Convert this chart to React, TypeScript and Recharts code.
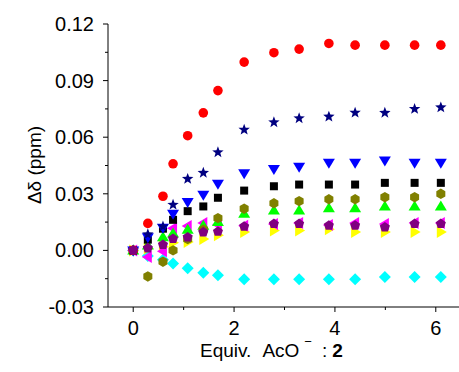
import React from 'react';
import { ScatterChart, Scatter, XAxis, YAxis } from 'recharts';

// equivalents of AcO- added
const equiv = [0, 0.29, 0.59, 0.79, 1.08, 1.39, 1.68, 2.2, 2.79, 3.29, 3.88, 4.4, 4.99, 5.58, 6.1];

// Δδ (ppm) per proton signal
const redCircle = [0, 0.0143, 0.0287, 0.0459, 0.0608, 0.0729, 0.0847, 0.0998, 0.1048, 0.1067, 0.1097, 0.1088, 0.1088, 0.1088, 0.1088];
const navyStar = [0, 0.0085, 0.0127, 0.0242, 0.0379, 0.0411, 0.052, 0.064, 0.0679, 0.07, 0.0709, 0.073, 0.0729, 0.075, 0.0758];
const blueDown = [0, 0.007, 0.012, 0.0194, 0.0256, 0.0295, 0.0353, 0.0409, 0.0432, 0.0444, 0.0464, 0.0464, 0.0476, 0.0464, 0.0464];
const blackSquare = [0, 0.0057, 0.0115, 0.0162, 0.0208, 0.0233, 0.0279, 0.0317, 0.034, 0.0349, 0.0349, 0.0349, 0.0358, 0.0358, 0.0358];
const oliveHex = [0, -0.0138, -0.006, 0, 0.006, 0.011, 0.0171, 0.0221, 0.025, 0.0261, 0.0271, 0.0271, 0.0282, 0.0282, 0.03];
const greenUp = [0, 0.0026, 0.007, 0.009, 0.011, 0.013, 0.015, 0.0194, 0.0212, 0.0212, 0.0224, 0.0224, 0.0233, 0.0233, 0.0233];
const magentaLeft = [0, -0.0035, -0.0005, 0.0118, 0.0129, 0.0145, 0.0136, 0.013, 0.014, 0.0145, 0.0135, 0.0145, 0.014, 0.0145, 0.0145];
const purplePent = [0, 0.0012, 0.003, 0.0062, 0.007, 0.0097, 0.01, 0.0127, 0.0141, 0.0141, 0.0132, 0.0132, 0.0123, 0.0141, 0.0141];
const yellowRight = [0, 0.001, 0.002, 0.004, 0.0044, 0.006, 0.008, 0.0097, 0.0106, 0.0106, 0.0112, 0.0097, 0.0097, 0.0097, 0.0097];
const cyanDiamond = [0, -0.003, -0.005, -0.007, -0.0094, -0.0118, -0.0132, -0.0153, -0.0153, -0.0153, -0.0153, -0.0153, -0.0141, -0.0141, -0.0141];

const xTicks = [0, 1, 2, 3, 4, 5, 6];
const yTicks = [-0.03, -0.015, 0, 0.015, 0.03, 0.045, 0.06, 0.075, 0.09, 0.105, 0.12];

const FONT = '"Liberation Sans", Arial, Helvetica, sans-serif';

const toPoints = (vals: number[]) => equiv.map((x, i) => ({ x, y: vals[i] }));

const poly = (cx: number, cy: number, pts: number[][]) =>
  pts.map(([dx, dy]) => `${cx + dx},${cy + dy}`).join(' ');

const regular = (n: number, r: number, rot: number) =>
  Array.from({ length: n }, (_, i) => {
    const a = rot + (i * 2 * Math.PI) / n;
    return [r * Math.cos(a), r * Math.sin(a)];
  });

const starPts = (ro: number, ri: number) =>
  Array.from({ length: 10 }, (_, i) => {
    const r = i % 2 === 0 ? ro : ri;
    const a = -Math.PI / 2 + (i * Math.PI) / 5;
    return [r * Math.cos(a), r * Math.sin(a)];
  });

function Marker({ cx, cy, kind, color }: any) {
  if (cx == null || cy == null) return null;
  switch (kind) {
    case 'circle':
      return <circle cx={cx} cy={cy} r={4.8} fill={color} />;
    case 'square':
      return <rect x={cx - 4} y={cy - 4} width={8} height={8} fill={color} />;
    case 'star':
      return <polygon points={poly(cx, cy, starPts(6, 2.5))} fill={color} />;
    case 'down':
      return <polygon points={poly(cx, cy, [[-6, -4], [6, -4], [0, 6]])} fill={color} />;
    case 'up':
      return <polygon points={poly(cx, cy, [[-6, 4], [6, 4], [0, -6]])} fill={color} />;
    case 'left':
      return <polygon points={poly(cx, cy, [[4, -6], [4, 6], [-6, 0]])} fill={color} />;
    case 'right':
      return <polygon points={poly(cx, cy, [[-4, -6], [-4, 6], [6, 0]])} fill={color} />;
    case 'hex':
      return <polygon points={poly(cx, cy, regular(6, 5.2, -Math.PI / 2))} fill={color} />;
    case 'pent':
      return <polygon points={poly(cx, cy, regular(5, 5.3, -Math.PI / 2))} fill={color} />;
    case 'diamond':
      return <polygon points={poly(cx, cy, [[0, -6], [6, 0], [0, 6], [-6, 0]])} fill={color} />;
    default:
      return null;
  }
}

// drawn bottom to top
const series = [
  { name: 'cyan', data: cyanDiamond, color: '#00FFFF', kind: 'diamond' },
  { name: 'yellow', data: yellowRight, color: '#FFFF00', kind: 'right' },
  { name: 'magenta', data: magentaLeft, color: '#FF00FF', kind: 'left' },
  { name: 'green', data: greenUp, color: '#00FF00', kind: 'up' },
  { name: 'olive', data: oliveHex, color: '#808000', kind: 'hex' },
  { name: 'black', data: blackSquare, color: '#000000', kind: 'square' },
  { name: 'blue', data: blueDown, color: '#0000FF', kind: 'down' },
  { name: 'navy', data: navyStar, color: '#000080', kind: 'star' },
  { name: 'red', data: redCircle, color: '#FF0000', kind: 'circle' },
  { name: 'purple', data: purplePent, color: '#800080', kind: 'pent' },
];

const isMajorY = (v: number) => Math.abs(v / 0.03 - Math.round(v / 0.03)) < 1e-6;

const XTick = ({ x, y, payload }: any) => {
  const major = payload.value % 2 === 0;
  return (
    <g>
      <line x1={x} x2={x} y1={y} y2={y + (major ? 5 : 3)} stroke="#000" strokeWidth={1} />
      {major && (
        <text x={x} y={y + 21} textAnchor="middle" dominantBaseline="central" fontSize={20} fontFamily={FONT} fill="#000">
          {payload.value}
        </text>
      )}
    </g>
  );
};

const YTick = ({ x, y, payload }: any) => {
  const major = isMajorY(payload.value);
  return (
    <g>
      <line x1={x} x2={x - (major ? 5 : 3)} y1={y} y2={y} stroke="#000" strokeWidth={1} />
      {major && (
        <text x={x - 14} y={y} textAnchor="end" dominantBaseline="central" fontSize={20} fontFamily={FONT} fill="#000">
          {payload.value.toFixed(2)}
        </text>
      )}
    </g>
  );
};

export default function App() {
  return (
    <div style={{ position: 'relative', width: 459, height: 372, overflow: 'hidden', background: '#fff' }}>
      <style>{'body{margin:0}'}</style>
      <ScatterChart width={461} height={372} margin={{ top: 24, right: 0, bottom: 0, left: 0 }}>
        <XAxis
          type="number"
          dataKey="x"
          domain={[-0.5, 6.5]}
          ticks={xTicks}
          interval={0}
          height={65}
          tickSize={0}
          tickMargin={0}
          tickLine={false}
          axisLine={{ stroke: '#000', strokeWidth: 1 }}
          tick={(p: any) => <XTick {...p} />}
          allowDataOverflow
        />
        <YAxis
          type="number"
          dataKey="y"
          domain={[-0.03, 0.12]}
          ticks={yTicks}
          interval={0}
          width={108}
          tickSize={0}
          tickMargin={0}
          tickLine={false}
          axisLine={{ stroke: '#000', strokeWidth: 1 }}
          tick={(p: any) => <YTick {...p} />}
          allowDataOverflow
        />
        {series.map((s) => (
          <Scatter
            key={s.name}
            name={s.name}
            data={toPoints(s.data)}
            isAnimationActive={false}
            shape={(p: any) => <Marker cx={p.cx} cy={p.cy} kind={s.kind} color={s.color} />}
          />
        ))}
      </ScatterChart>
      <svg width={459} height={372} style={{ position: 'absolute', left: 0, top: 0, pointerEvents: 'none' }}>
        <text
          x={34}
          y={165}
          transform="rotate(-90 34 165)"
          textAnchor="middle"
          dominantBaseline="central"
          fontSize={19}
          fontFamily={FONT}
          fill="#000"
        >
          Δδ (ppm)
        </text>
        <text x={200} y={350} dominantBaseline="central" fontSize={19} fontFamily={FONT} fill="#000">
          <tspan>Equiv.</tspan>
          <tspan dx={11}>AcO</tspan>
          <tspan dx={5} dy={-9} fontSize={13}>−</tspan>
          <tspan dx={10} dy={9}>:</tspan>
          <tspan dx={5} fontWeight="bold">2</tspan>
        </text>
      </svg>
    </div>
  );
}
